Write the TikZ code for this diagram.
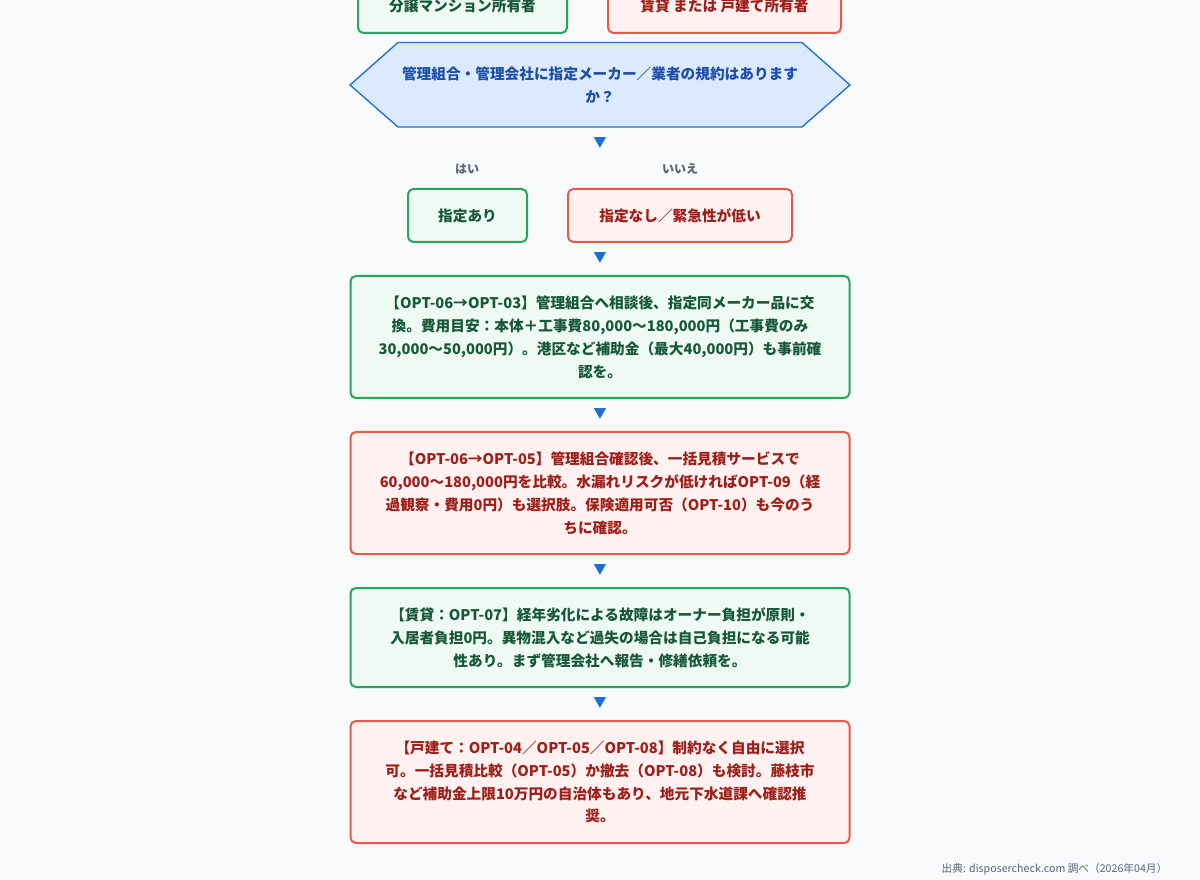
\documentclass[tikz,border=0pt]{standalone}
\usepackage{fontspec}
\setmainfont{Noto Sans CJK JP}
\newfontfamily\jpb{Noto Sans CJK JP}[BoldFont={* Bold}]
\begin{document}
\definecolor{bg}{HTML}{F8FAFC}
\definecolor{gbd}{HTML}{27A55E}
\definecolor{gfl}{HTML}{EEFAF3}
\definecolor{gtx}{HTML}{17583A}
\definecolor{rbd}{HTML}{E8594A}
\definecolor{rfl}{HTML}{FFF2F0}
\definecolor{rtx}{HTML}{9E1F1A}
\definecolor{bbd}{HTML}{1D6FD0}
\definecolor{bfl}{HTML}{DBEAFE}
\definecolor{btx}{HTML}{1E4FA8}
\definecolor{gry}{HTML}{5B6577}
\begin{tikzpicture}[x=0.75pt,y=-0.75pt,
  gbox/.style={draw=gbd,fill=gfl,line width=1.5pt,rounded corners=4pt,text=gtx,font=\fontsize{11pt}{17.2pt}\selectfont\bfseries,align=center},
  rbox/.style={draw=rbd,fill=rfl,line width=1.5pt,rounded corners=4pt,text=rtx,font=\fontsize{11pt}{17.2pt}\selectfont\bfseries,align=center},
  tri/.style={text=bbd,font=\fontsize{10pt}{12pt}\selectfont},
  lab/.style={text=gry,font=\fontsize{9pt}{11pt}\selectfont\bfseries}]
\fill[bg] (0,0) rectangle (1200,880);
\useasboundingbox (0,0) rectangle (1200,880);
\begin{scope}
\clip (0,0) rectangle (1200,880);
\draw[gbox] (358,-12) rectangle (567,33);
\draw[rbox] (608,-12) rectangle (841,33);
\end{scope}
\node[text=gtx,font=\fontsize{11pt}{13pt}\selectfont\bfseries] (t1) at (462.5,6) {分譲マンション所有者};
\node[text=rtx,font=\fontsize{11pt}{13pt}\selectfont\bfseries] (t2) at (724.5,6) {賃貸 または 戸建て所有者};
\draw[fill=bfl,draw=bbd,line width=1pt] (350,85) -- (398,42.5) -- (802,42.5) -- (850,85) -- (802,127) -- (398,127) -- cycle;
\node[text=btx,font=\fontsize{11pt}{17.2pt}\selectfont\bfseries,align=center] (q) at (600,85) {管理組合・管理会社に指定メーカー／業者の規約はあります\\か？};
\node[tri] (a0) at (600,143) {▼};
\node[lab] (yes) at (467,169) {はい};
\node[lab] (no) at (680,169) {いいえ};
\node[gbox,minimum width=119*0.75pt,minimum height=53*0.75pt] (y1) at (467.5,215.5) {指定あり};
\node[rbox,minimum width=224*0.75pt,minimum height=53*0.75pt] (n1) at (680,215.5) {指定なし／緊急性が低い};
\node[tri] (a1) at (600,258) {▼};
\node[gbox,minimum width=499*0.75pt,minimum height=122*0.75pt] (b1) at (600,337) {【OPT-06→OPT-03】管理組合へ相談後、指定同メーカー品に交\\換。費用目安：本体＋工事費80,000〜180,000円（工事費のみ\\30,000〜50,000円）。港区など補助金（最大40,000円）も事前確\\認を。};
\node[tri] (a2) at (600,414) {▼};
\node[rbox,minimum width=499*0.75pt,minimum height=122*0.75pt] (b2) at (600,493) {【OPT-06→OPT-05】管理組合確認後、一括見積サービスで\\60,000〜180,000円を比較。水漏れリスクが低ければOPT-09（経\\過観察・費用0円）も選択肢。保険適用可否（OPT-10）も今のう\\ちに確認。};
\node[tri] (a3) at (600,570) {▼};
\node[gbox,minimum width=499*0.75pt,minimum height=99*0.75pt] (b3) at (600,637.5) {【賃貸：OPT-07】経年劣化による故障はオーナー負担が原則・\\入居者負担0円。異物混入など過失の場合は自己負担になる可能\\性あり。まず管理会社へ報告・修繕依頼を。};
\node[tri] (a4) at (600,703) {▼};
\node[rbox,minimum width=499*0.75pt,minimum height=122*0.75pt] (b4) at (600,782) {【戸建て：OPT-04／OPT-05／OPT-08】制約なく自由に選択\\可。一括見積比較（OPT-05）か撤去（OPT-08）も検討。藤枝市\\など補助金上限10万円の自治体もあり、地元下水道課へ確認推\\奨。};
\node[text=gry,font=\fontsize{8pt}{10pt}\selectfont,anchor=east] (src) at (1172,869) {出典: disposercheck.com 調べ（2026年04月）};
\end{tikzpicture}
\end{document}
